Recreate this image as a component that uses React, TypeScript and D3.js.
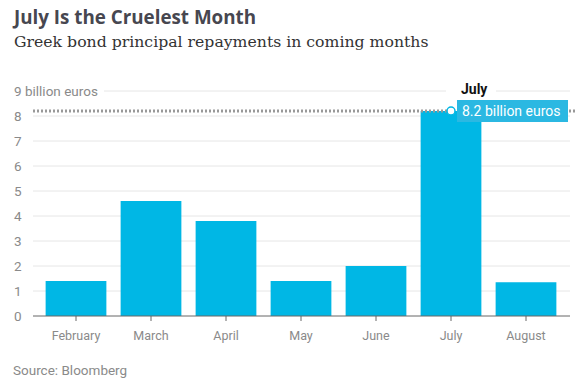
import React from "react";
import * as d3 from "d3";

const months = ["February", "March", "April", "May", "June", "July", "August"];
const values = [1.4, 4.6, 3.8, 1.4, 2.0, 8.2, 1.35];
const yTicks = [0, 1, 2, 3, 4, 5, 6, 7, 8, 9];
const title = "July Is the Cruelest Month";
const subtitle = "Greek bond principal repayments in coming months";
const source = "Source: Bloomberg";
const highlightMonth = "July";
const highlightLabel = "8.2 billion euros";

const W = 583;
const H = 381;
const sans = "Roboto, 'Open Sans', sans-serif";

export default function App() {
  const x = d3.scaleBand<string>().domain(months).range([38.5, 563.5]).paddingInner(0.19).paddingOuter(0.095);
  const y = d3.scaleLinear().domain([0, 9]).range([316, 91]);
  const hiIdx = months.indexOf(highlightMonth);
  const hx = (x(highlightMonth) as number) + x.bandwidth() / 2;
  const hy = y(values[hiIdx]);
  return (
    <div style={{ position: "absolute", left: 0, top: 0 }}>
      <svg width={W} height={H} style={{ display: "block", background: "#fff" }}>
        <text x={14} y={24} fontFamily="'Open Sans', sans-serif" fontWeight={700} fontSize={18.8} fill="#474750">{title}</text>
        <text x={14} y={47} fontFamily="'DejaVu Serif', serif" fontSize={15.7} fill="#333">{subtitle}</text>
        {yTicks.map((t) => (
          <g key={t}>
            {t > 0 && (
              <line x1={t === 9 ? 104 : 33} x2={570} y1={y(t)} y2={y(t)} stroke="#e6e6e6" strokeWidth={1} />
            )}
            <text x={14} y={y(t)} dy="0.35em" fontFamily={sans} fontSize={13.5} fill="#8a8a8a">
              {t === 9 ? "9 billion euros" : t}
            </text>
          </g>
        ))}
        {months.map((m, i) => (
          <rect key={m} x={x(m)} y={y(values[i])} width={x.bandwidth()} height={y(0) - y(values[i])} fill="#00b7e5" />
        ))}
        <line x1={33} x2={570} y1={y(0)} y2={y(0)} stroke="#666" strokeWidth={1} />
        {months.map((m) => {
          const cx = (x(m) as number) + x.bandwidth() / 2;
          return (
            <g key={m}>
              <line x1={cx} x2={cx} y1={y(0)} y2={y(0) + 5} stroke="#666" />
              <text x={cx} y={340} textAnchor="middle" fontFamily={sans} fontSize={12.5} fill="#8a8a8a">{m}</text>
            </g>
          );
        })}
        <line x1={33} x2={577} y1={hy} y2={hy} stroke="#999" strokeWidth={3} strokeDasharray="2,2" />
        <rect x={hx - 5} y={80} width={50} height={17} fill="#fff" />
        <text x={hx + 10} y={94} fontFamily={sans} fontWeight={700} fontSize={14} fill="#111">{highlightMonth}</text>
        <rect x={hx + 6} y={hy - 11} width={111} height={22} fill="#2bb8e2" />
        <text x={hx + 11} y={hy} dy="0.36em" fontFamily={sans} fontSize={14} fill="#fff">{highlightLabel}</text>
        <circle cx={hx} cy={hy} r={4} fill="#fff" stroke="#00b7e5" strokeWidth={1.5} />
        <text x={13} y={375} fontFamily={sans} fontSize={13.5} fill="#8a8a8a">{source}</text>
      </svg>
    </div>
  );
}
